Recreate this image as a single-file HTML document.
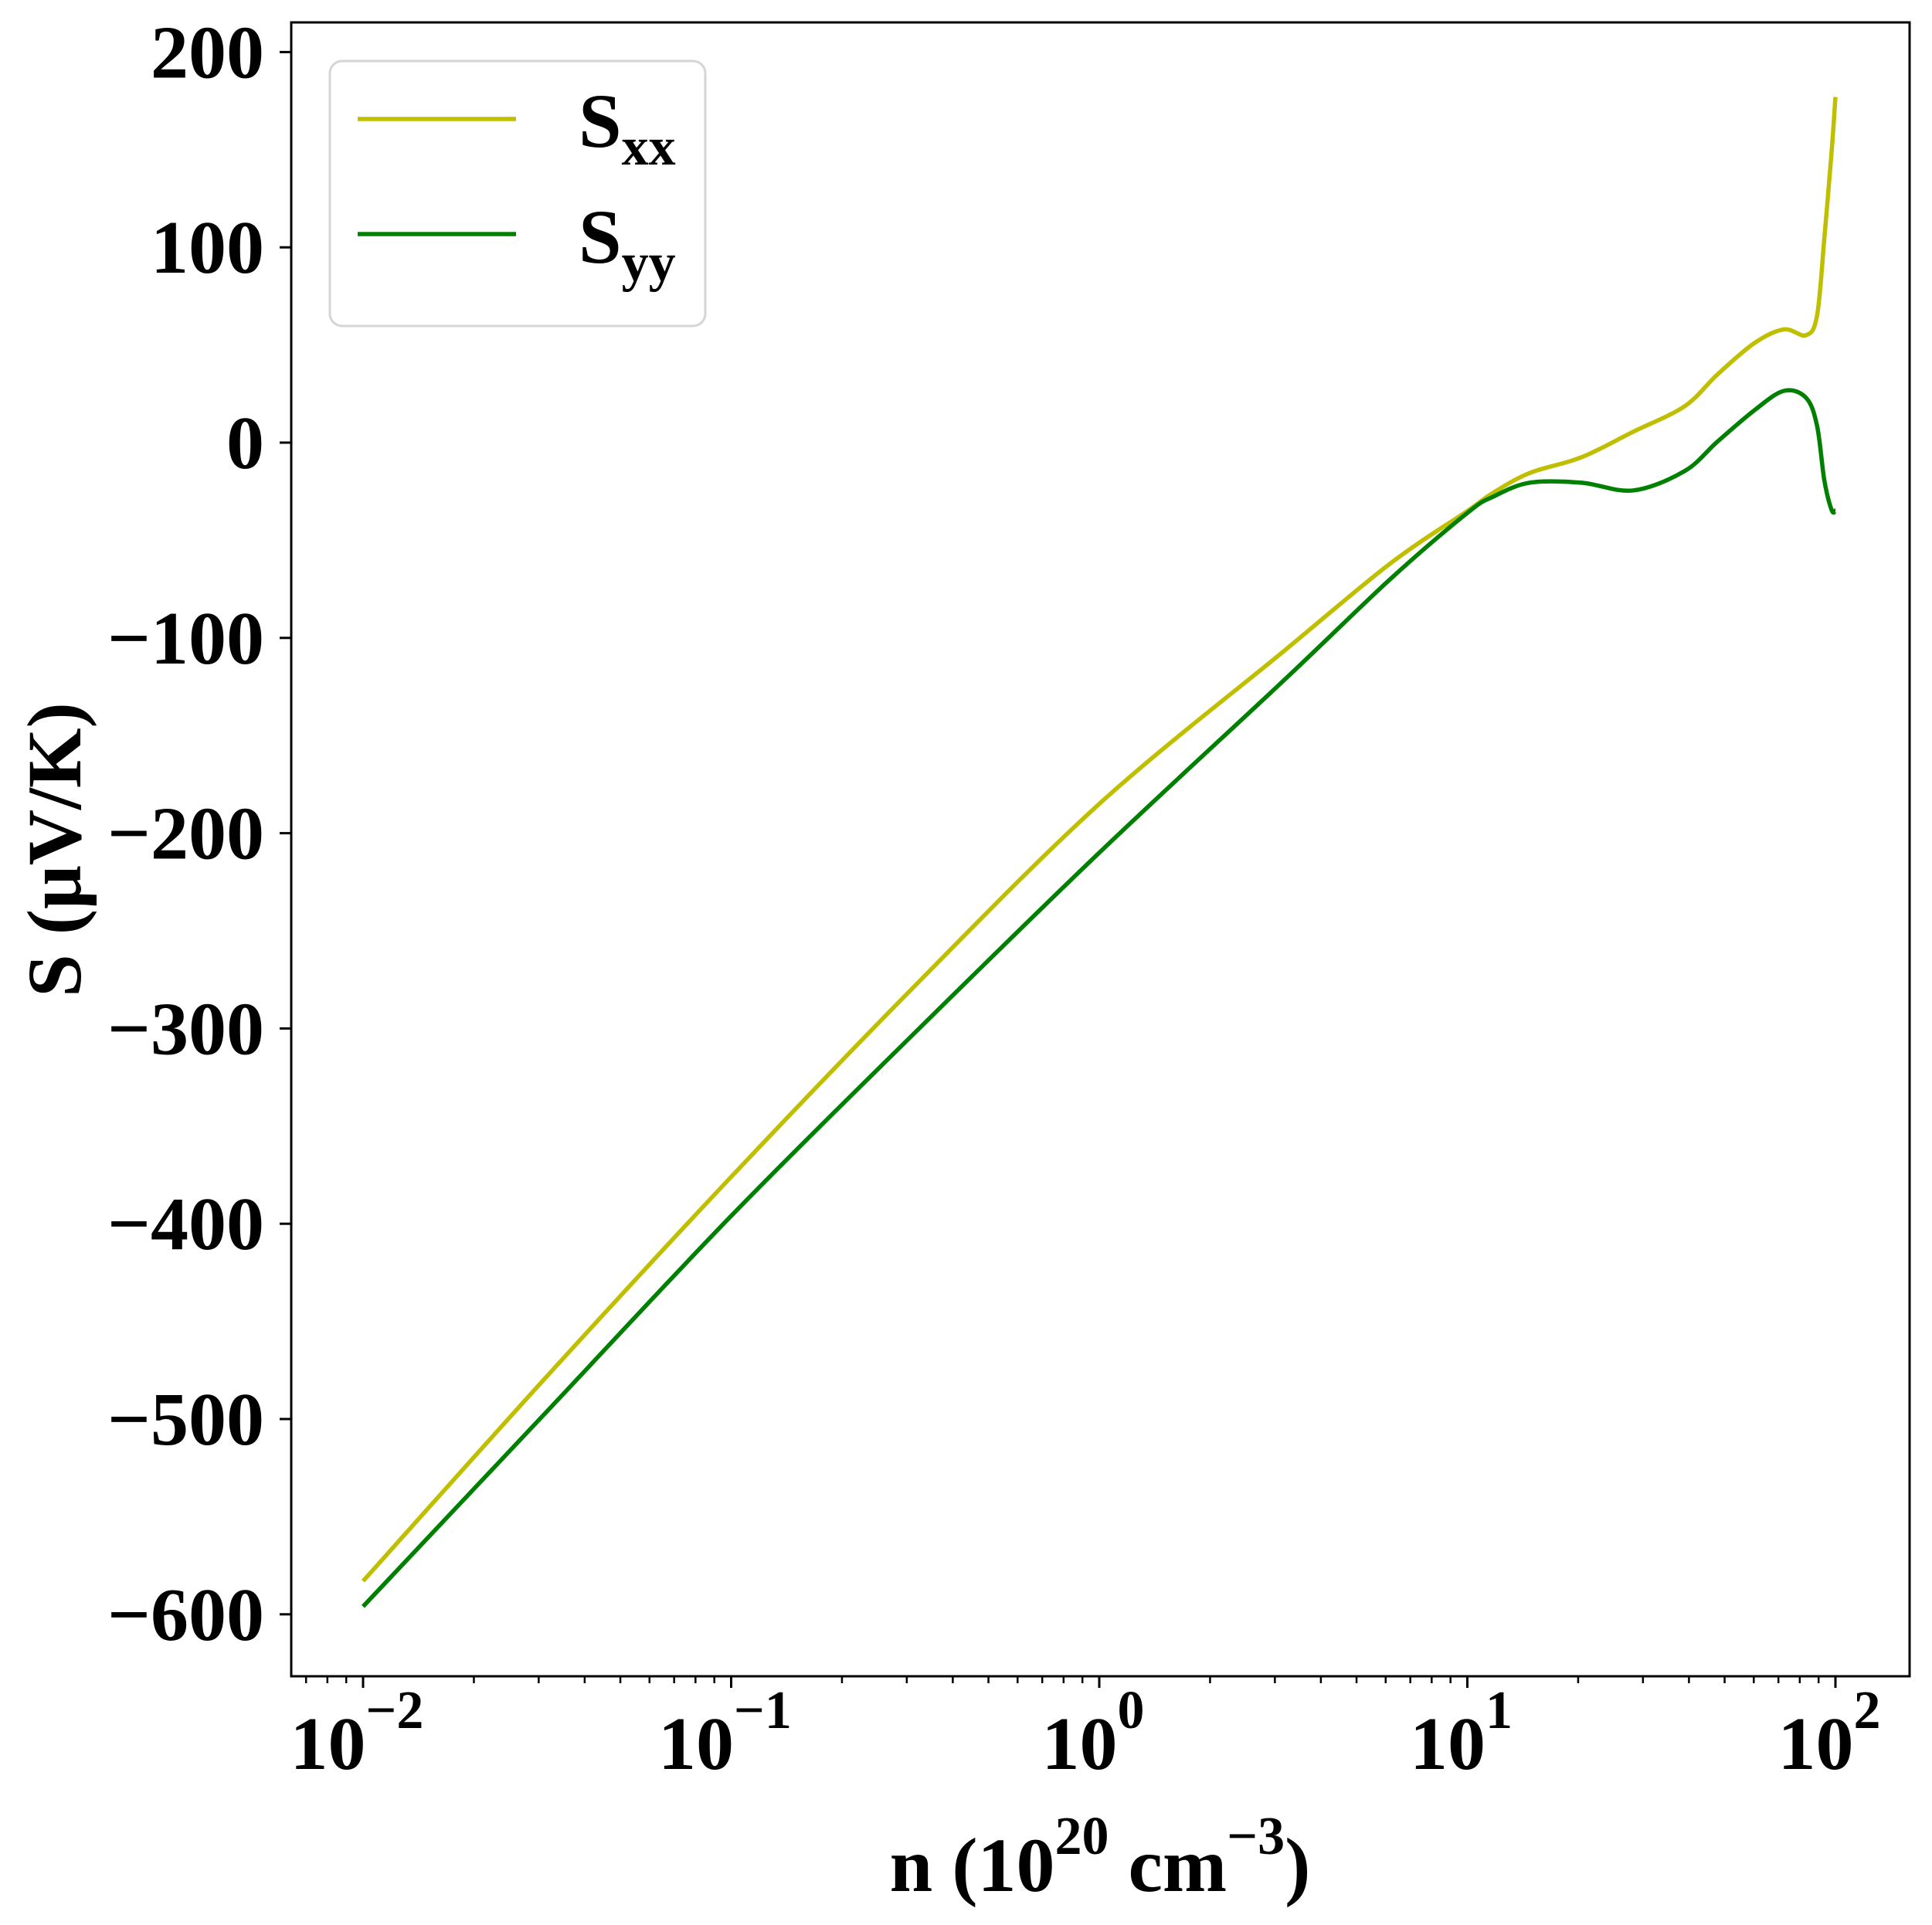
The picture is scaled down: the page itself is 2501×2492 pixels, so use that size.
<!DOCTYPE html>
<html><head><meta charset="utf-8"><style>
html,body{margin:0;padding:0;background:#fff;}
svg{display:block;}
text{font-family:"Liberation Serif","Times New Roman",serif;font-weight:bold;}
</style></head><body>
<svg id="chart" width="2501" height="2492" viewBox="0 0 2501 2492" xmlns="http://www.w3.org/2000/svg" font-family="Liberation Serif, serif" font-weight="bold">
<rect x="0" y="0" width="2501" height="2492" fill="#fff"/>
<g id="plot"></g>
<g id="axes"></g>
<text x="1424" y="2448" font-size="100" text-anchor="middle">n (10<tspan dy="-48" font-size="70">20</tspan><tspan dy="48"> cm</tspan><tspan dy="-48" font-size="70">−3</tspan><tspan dy="48">)</tspan></text>
<text transform="translate(104,1100) rotate(-90)" font-size="100" text-anchor="middle">S (μV/K)</text>
<g>
<rect x="427" y="79" width="486" height="343" rx="16" fill="#fff" stroke="#d5d5d5" stroke-width="3"/>
<line x1="463" y1="154" x2="668" y2="154" stroke="#bfbf00" stroke-width="5.5"/>
<text x="749" y="190" font-size="100">S<tspan dy="23" font-size="70">xx</tspan></text>
<line x1="463" y1="303" x2="668" y2="303" stroke="#008000" stroke-width="5.5"/>
<text x="749" y="340" font-size="100">S<tspan dy="23" font-size="70">yy</tspan></text>
</g>
</svg>
<script>
const logN = [-2,-1.5,-1,-0.5,0,0.5,0.79,1.0,1.07,1.17,1.31,1.45,1.59,1.68,1.78,1.86,1.92,1.95,1.97,1.99,2.0];
const sxx = [-583,-478,-376,-278,-185,-107,-62,-35,-25.7,-15.5,-7.5,5.5,18.6,35,51,58,55,65,105,150,177];
const syy = [-596,-496,-396,-302,-210,-122,-70,-36,-27.7,-20.5,-20.5,-24.5,-14.6,0.6,16.6,26.5,23,8.7,-19.5,-34.7,-34.8];
const yTicks = [200,100,0,-100,-200,-300,-400,-500,-600];
const xDecades = [-2,-1,0,1,2];

const L=377,R=2472,T=29,B=2170;
function xs(lg){return 470+(lg+2)*476.5;}
function ys(v){return 573-v*2.528;}
const NS="http://www.w3.org/2000/svg";
const axes=document.getElementById('axes');
const plot=document.getElementById('plot');
function mk(tag,attrs,parent){const e=document.createElementNS(NS,tag);for(const k in attrs)e.setAttribute(k,attrs[k]);parent.appendChild(e);return e;}

function pathFor(xsArr,vals){
  const p=xsArr.map((l,i)=>[xs(l),ys(vals[i])]);
  let d="M"+p[0][0]+","+p[0][1];
  for(let i=0;i<p.length-1;i++){
    const p0=p[Math.max(0,i-1)],p1=p[i],p2=p[i+1],p3=p[Math.min(p.length-1,i+2)];
    const c1=[p1[0]+(p2[0]-p0[0])/6,p1[1]+(p2[1]-p0[1])/6];
    const c2=[p2[0]-(p3[0]-p1[0])/6,p2[1]-(p3[1]-p1[1])/6];
    d+=" C"+c1[0]+","+c1[1]+" "+c2[0]+","+c2[1]+" "+p2[0]+","+p2[1];
  }
  return d;
}
const l1=mk('path',{d:pathFor(logN,sxx),fill:'none',stroke:'#bfbf00','stroke-width':5.5},plot);


const l2=mk('path',{d:pathFor(logN,syy),fill:'none',stroke:'#008000','stroke-width':5.5},plot);



const frame=mk('rect',{x:L,y:T,width:R-L,height:B-T,fill:'none',stroke:'#000','stroke-width':3},axes);



yTicks.forEach(v=>{
  const y=ys(v);
  const t=mk('line',{x1:L-15,y1:y,x2:L,y2:y,stroke:'#000','stroke-width':3},axes);
  
  
  const tx=mk('text',{x:L-35,y:y+33,'font-size':98,'text-anchor':'end'},axes);
  tx.textContent=(v<0?'−':'')+Math.abs(v);
  
  
});
for(let d=-3;d<=2;d++){
  for(let m=2;m<=9;m++){
    const x=xs(d+Math.log10(m));
    if(x<L||x>R)continue;
    const t=mk('line',{x1:x,y1:B,x2:x,y2:B+9,stroke:'#000','stroke-width':2.5},axes);
    
    
  }
}
xDecades.forEach(d=>{
  const x=xs(d);
  const t=mk('line',{x1:x,y1:B,x2:x,y2:B+15,stroke:'#000','stroke-width':3},axes);
  
  
  const tx=mk('text',{x:x-8,y:2290,'font-size':98,'text-anchor':'middle'},axes);
  
  
  tx.appendChild(document.createTextNode('10'));
  const s=mk('tspan',{dy:-53,'font-size':70},tx);
  s.textContent=(d<0?'−':'')+Math.abs(d);
});
</script>
</body></html>
